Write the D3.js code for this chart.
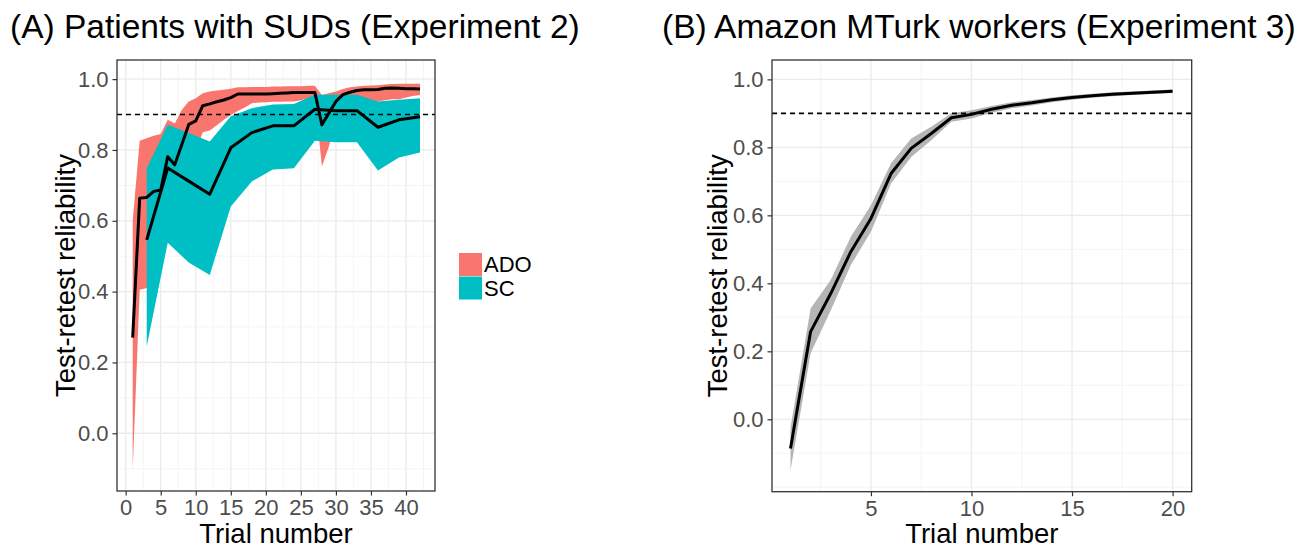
<!DOCTYPE html>
<html>
<head>
<meta charset="utf-8">
<script src="https://cdn.jsdelivr.net/npm/d3@7"></script>
<style>
  body { margin: 0; background: #fff; }
  text { font-family: "Liberation Sans", Arial, sans-serif; }
</style>
</head>
<body>
<div id="viz"></div>
<script>
// ---- data (A): ADO, every trial
const adoTrials = d3.range(1, 43);
const adoMean = [0.27, 0.664, 0.666, 0.683, 0.687, 0.781, 0.758, 0.815, 0.872, 0.882,
  0.925, 0.93, 0.936, 0.941, 0.948, 0.958, 0.958, 0.958, 0.958, 0.958,
  0.959, 0.96, 0.961, 0.962, 0.962, 0.962, 0.962, 0.871, 0.904, 0.937,
  0.956, 0.963, 0.968, 0.97, 0.97, 0.971, 0.974, 0.975, 0.974, 0.973, 0.973, 0.972];
const adoLower = [-0.104, 0.405, 0.41, 0.45, 0.5, 0.62, 0.63, 0.72, 0.78, 0.8,
  0.85, 0.855, 0.87, 0.885, 0.899, 0.91, 0.92, 0.932, 0.934, 0.935,
  0.936, 0.936, 0.937, 0.937, 0.94, 0.945, 0.95, 0.753, 0.81, 0.88,
  0.91, 0.93, 0.945, 0.94, 0.937, 0.937, 0.94, 0.943, 0.943, 0.948, 0.952, 0.955];
const adoUpper = [0.6, 0.826, 0.833, 0.84, 0.845, 0.885, 0.875, 0.913, 0.937, 0.946,
  0.96, 0.965, 0.968, 0.97, 0.973, 0.977, 0.977, 0.978, 0.978, 0.978,
  0.979, 0.979, 0.98, 0.98, 0.98, 0.981, 0.981, 0.955, 0.96, 0.965,
  0.972, 0.977, 0.979, 0.981, 0.982, 0.983, 0.985, 0.986, 0.987, 0.987, 0.987, 0.987];

// ---- data (A): SC, every third trial
const scTrials = [3, 6, 9, 12, 15, 18, 21, 24, 27, 30, 33, 36, 39, 42];
const scMean  = [0.546, 0.749, 0.712, 0.675, 0.806, 0.849, 0.868, 0.868, 0.915, 0.911, 0.911, 0.864, 0.885, 0.894];
const scLower = [0.245, 0.538, 0.482, 0.447, 0.64, 0.711, 0.745, 0.748, 0.826, 0.822, 0.822, 0.742, 0.779, 0.793];
const scUpper = [0.748, 0.871, 0.848, 0.824, 0.895, 0.918, 0.928, 0.93, 0.956, 0.956, 0.956, 0.937, 0.942, 0.946];

// ---- data (B): MTurk
const mtTrials = d3.range(1, 21);
const mtMean  = [-0.086, 0.258, 0.37, 0.493, 0.591, 0.723, 0.797, 0.841, 0.887, 0.897,
  0.912, 0.924, 0.931, 0.94, 0.947, 0.952, 0.956, 0.959, 0.962, 0.965];
const mtLower = [-0.15, 0.194, 0.32, 0.454, 0.552, 0.694, 0.772, 0.821, 0.875, 0.885,
  0.902, 0.915, 0.923, 0.933, 0.94, 0.946, 0.95, 0.954, 0.957, 0.96];
const mtUpper = [-0.025, 0.326, 0.41, 0.537, 0.63, 0.753, 0.826, 0.861, 0.9, 0.909,
  0.922, 0.933, 0.939, 0.947, 0.953, 0.958, 0.962, 0.964, 0.967, 0.97];

const yTicks = [0, 0.2, 0.4, 0.6, 0.8, 1.0];
const xTicksA = [0, 5, 10, 15, 20, 25, 30, 35, 40];
const xTicksB = [5, 10, 15, 20];
const threshold = 0.9;
const groups = ["ADO", "SC"];
const colors = {ADO: "#F8766D", SC: "#00BFC4"};

const W = 1314, H = 548;
const svg = d3.select("#viz").append("svg")
    .attr("width", W)
    .attr("height", H);

function zip(t, m, lo, hi) {
  return t.map((d, i) => ({t: d, m: m[i], lo: lo[i], hi: hi[i]}));
}

function drawPanel(p) {
  const x = d3.scaleLinear().domain(p.xDomain).range([p.left, p.right]);
  const y = d3.scaleLinear().domain(p.yDomain).range([p.bottom, p.top]);
  const g = svg.append("g");

  g.append("rect")
      .attr("x", p.left).attr("y", p.top)
      .attr("width", p.right - p.left).attr("height", p.bottom - p.top)
      .attr("fill", "#fff");

  // minor grid every half step, major grid at ticks
  const xMinor = p.xTicks.map(d => d + p.xStep / 2).concat([p.xTicks[0] - p.xStep / 2])
      .filter(d => d > p.xDomain[0] && d < p.xDomain[1]);
  const yMinor = d3.range(-0.3, 1.1, 0.1).map(d => +d.toFixed(2))
      .filter(d => !yTicks.includes(d) && d > p.yDomain[0] && d < p.yDomain[1]);

  g.selectAll(".xminor").data(xMinor).enter().append("line")
      .attr("x1", d => x(d)).attr("x2", d => x(d))
      .attr("y1", p.top).attr("y2", p.bottom)
      .attr("stroke", "#f2f2f2").attr("stroke-width", 0.8);
  g.selectAll(".yminor").data(yMinor).enter().append("line")
      .attr("y1", d => y(d)).attr("y2", d => y(d))
      .attr("x1", p.left).attr("x2", p.right)
      .attr("stroke", "#f2f2f2").attr("stroke-width", 0.8);
  g.selectAll(".xmajor").data(p.xTicks).enter().append("line")
      .attr("x1", d => x(d)).attr("x2", d => x(d))
      .attr("y1", p.top).attr("y2", p.bottom)
      .attr("stroke", "#ebebeb").attr("stroke-width", 1.3);
  g.selectAll(".ymajor").data(yTicks).enter().append("line")
      .attr("y1", d => y(d)).attr("y2", d => y(d))
      .attr("x1", p.left).attr("x2", p.right)
      .attr("stroke", "#ebebeb").attr("stroke-width", 1.3);

  const area = d3.area().x(d => x(d.t)).y0(d => y(d.lo)).y1(d => y(d.hi));
  const line = d3.line().x(d => x(d.t)).y(d => y(d.m));

  p.series.forEach(s => {
    g.append("path").datum(s.data)
        .attr("d", area)
        .attr("fill", s.fill);
  });
  p.series.forEach(s => {
    g.append("path").datum(s.data)
        .attr("d", line)
        .attr("fill", "none")
        .attr("stroke", "#000")
        .attr("stroke-width", 3)
        .attr("stroke-linejoin", "round");
  });

  g.append("line")
      .attr("x1", p.left).attr("x2", p.right)
      .attr("y1", y(threshold)).attr("y2", y(threshold))
      .attr("stroke", "#000").attr("stroke-width", 1.6)
      .attr("stroke-dasharray", "5,4");

  g.append("rect")
      .attr("x", p.left).attr("y", p.top)
      .attr("width", p.right - p.left).attr("height", p.bottom - p.top)
      .attr("fill", "none").attr("stroke", "#333").attr("stroke-width", 1.3);

  const xAxis = g.append("g")
      .attr("transform", "translate(0," + p.bottom + ")")
      .call(d3.axisBottom(x).tickValues(p.xTicks).tickSize(4.5).tickPadding(4).tickFormat(d3.format("d")));
  const yAxis = g.append("g")
      .attr("transform", "translate(" + p.left + ",0)")
      .call(d3.axisLeft(y).tickValues(yTicks).tickSize(4.5).tickPadding(4).tickFormat(d3.format(".1f")));
  [xAxis, yAxis].forEach(a => {
    a.select(".domain").remove();
    a.selectAll(".tick line").attr("stroke", "#333").attr("stroke-width", 1.2);
    a.selectAll(".tick text")
        .attr("fill", "#4d4d4d")
        .style("font-size", "22px")
        .style("font-family", "'Liberation Sans', Arial, sans-serif");
  });

  g.append("text")
      .attr("x", (p.left + p.right) / 2).attr("y", 543)
      .attr("text-anchor", "middle")
      .style("font-size", "27.5px")
      .text("Trial number");
  g.append("text")
      .attr("transform", "translate(" + p.yTitleX + "," + (p.top + p.bottom) / 2 + ") rotate(-90)")
      .attr("text-anchor", "middle")
      .style("font-size", "27.5px")
      .text("Test-retest reliability");
  g.append("text")
      .attr("x", p.titleX).attr("y", 38)
      .style("font-size", "33.5px")
      .text(p.title);
}

drawPanel({
  left: 117, right: 435, top: 60, bottom: 491,
  xDomain: [-1.24, 44.14], yDomain: [-0.163, 1.054],
  xTicks: xTicksA, xStep: 5, yTitleX: 75, titleX: 10,
  title: "(A) Patients with SUDs (Experiment 2)",
  series: [
    {data: zip(adoTrials, adoMean, adoLower, adoUpper), fill: colors.ADO},
    {data: zip(scTrials, scMean, scLower, scUpper), fill: colors.SC}
  ]
});

drawPanel({
  left: 772, right: 1191.7, top: 60, bottom: 491.7,
  xDomain: [0.08, 20.95], yDomain: [-0.213, 1.057],
  xTicks: xTicksB, xStep: 5, yTitleX: 727, titleX: 662,
  title: "(B) Amazon MTurk workers (Experiment 3)",
  series: [
    {data: zip(mtTrials, mtMean, mtLower, mtUpper), fill: "#b5b5b5"}
  ]
});

// legend
const legend = svg.append("g").attr("transform", "translate(459,253)");
legend.selectAll("rect").data(groups).enter().append("rect")
    .attr("x", 0).attr("y", (d, i) => i * 23.5)
    .attr("width", 23).attr("height", 23)
    .attr("fill", d => colors[d]);
legend.selectAll("text").data(groups).enter().append("text")
    .attr("x", 25).attr("y", (d, i) => i * 23.5 + 11.5)
    .attr("dy", "0.36em")
    .style("font-size", "22px")
    .text(d => d);
</script>
</body>
</html>
